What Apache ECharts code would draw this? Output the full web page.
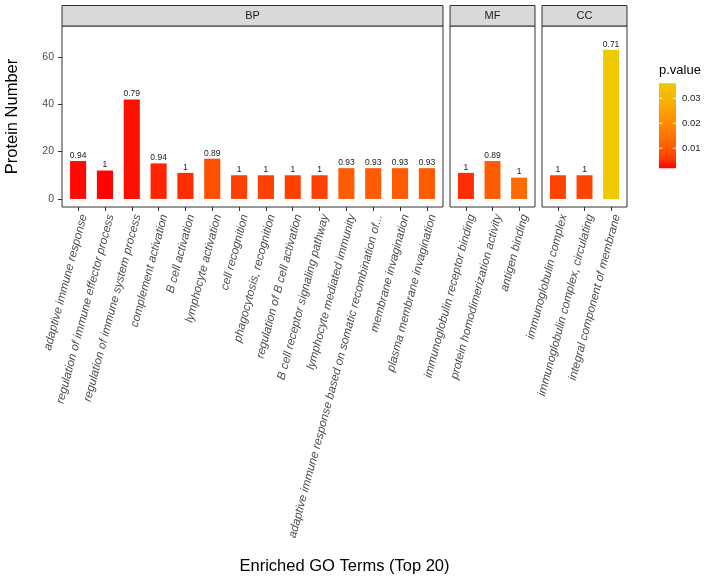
<!DOCTYPE html>
<html>
<head>
<meta charset="utf-8">
<script src="https://cdn.jsdelivr.net/npm/echarts@6/dist/echarts.min.js"></script>
<style>html,body{margin:0;padding:0;background:#fff}#c{width:708px;height:579px}</style>
</head>
<body>
<div id="c"></div>
<script>
// ---- data ----
const bpTerms = ["adaptive immune response","regulation of immune effector process","regulation of immune system process","complement activation","B cell activation","lymphocyte activation","cell recognition","phagocytosis, recognition","regulation of B cell activation","B cell receptor signaling pathway","lymphocyte mediated immunity","adaptive immune response based on somatic recombination of...","membrane invagination","plasma membrane invagination"];
const bpCounts = [16,12,42,15,11,17,10,10,10,10,13,13,13,13];
const bpLabels = ["0.94","1","0.79","0.94","1","0.89","1","1","1","1","0.93","0.93","0.93","0.93"];
const bpPvalues = [0.0027,0.0022,0.0030,0.0045,0.0050,0.0088,0.0065,0.0065,0.0065,0.0065,0.0105,0.0105,0.0105,0.0105];

const mfTerms = ["immunoglobulin receptor binding","protein homodimerization activity","antigen binding"];
const mfCounts = [11,16,9];
const mfLabels = ["1","0.89","1"];
const mfPvalues = [0.0050,0.0105,0.0135];

const ccTerms = ["immunoglobulin complex","immunoglobulin complex, circulating","integral component of membrane"];
const ccCounts = [10,10,63];
const ccLabels = ["1","1","0.71"];
const ccPvalues = [0.0070,0.0070,0.0360];

const panelNames = ["BP","MF","CC"];
const yTicks = [0,20,40,60];
const legendTicks = [0.01,0.02,0.03];
const pMin = 0.002, pMax = 0.036;

// ---- layout / style ----
const FONT = "Liberation Sans";
const colors = ["#FF0000","#FF3F00","#FF5C00","#FE7300","#FD8700","#FB9A00","#F9AB00","#F4BB00","#EEC900"];
const panels = [
  {terms: bpTerms, counts: bpCounts, labels: bpLabels, p: bpPvalues, left: 62, width: 381},
  {terms: mfTerms, counts: mfCounts, labels: mfLabels, p: mfPvalues, left: 450, width: 85},
  {terms: ccTerms, counts: ccCounts, labels: ccLabels, p: ccPvalues, left: 542, width: 85}
];
const gridTop = 26, gridHeight = 181;
const yMin = -3.4, yMax = 73;

const grids = [], xAxes = [], yAxes = [], series = [], graphics = [];
panels.forEach((pn, i) => {
  grids.push({left: pn.left, top: gridTop, width: pn.width, height: gridHeight, show: true,
    borderColor: '#333333', borderWidth: 1, backgroundColor: '#fff', containLabel: false,
    outerBoundsMode: 'none'});
  const ticks = pn.terms.map((t, j) => j + 1);
  xAxes.push({type: 'value', gridIndex: i, min: 0.4, max: pn.terms.length + 0.6,
    axisLine: {show: false, onZero: false},
    splitLine: {show: false},
    axisTick: {show: true, customValues: ticks, length: 4, lineStyle: {color: '#333333'}},
    axisLabel: {show: true, customValues: ticks, rotate: 75, verticalAlign: 'top', margin: 6,
      fontFamily: FONT, fontStyle: 'italic', fontSize: 11.7, color: '#4D4D4D',
      formatter: v => pn.terms[Math.round(v) - 1] || ''}
  });
  yAxes.push({type: 'value', gridIndex: i, min: yMin, max: yMax,
    axisLine: {show: false, onZero: false},
    splitLine: {show: false},
    axisTick: {show: i === 0, customValues: yTicks, length: 4, lineStyle: {color: '#333333'}},
    axisLabel: {show: i === 0, customValues: yTicks, margin: 8, fontFamily: FONT, fontSize: 10.5, color: '#4D4D4D'},
    name: i === 0 ? 'Protein Number' : '', nameLocation: 'middle', nameGap: 41,
    nameTextStyle: {fontFamily: FONT, fontSize: 16.5, color: '#000'}
  });
  series.push({type: 'bar', xAxisIndex: i, yAxisIndex: i, barWidth: '60%',
    data: pn.terms.map((t, j) => [j + 1, pn.counts[j], pn.p[j]]),
    label: {show: true, position: 'top', distance: 1, fontFamily: FONT, fontSize: 8.5, color: '#1A1A1A',
      formatter: prm => pn.labels[prm.dataIndex]},
    encode: {x: 0, y: 1}
  });
  graphics.push({type: 'group', children: [
    {type: 'rect', shape: {x: pn.left, y: 5.5, width: pn.width, height: gridTop - 5.5},
      style: {fill: '#D9D9D9', stroke: '#333333', lineWidth: 1}},
    {type: 'text', style: {text: panelNames[i], x: pn.left + pn.width / 2, y: (5.5 + gridTop) / 2,
      align: 'center', verticalAlign: 'middle', font: '11px ' + FONT, fill: '#1A1A1A'}}
  ]});
});

// x title
graphics.push({type: 'text', style: {text: 'Enriched GO Terms (Top 20)', x: (62 + 627) / 2, y: 566,
  align: 'center', verticalAlign: 'middle', font: '16.5px ' + FONT, fill: '#000'}});

// colour legend
const lgX = 659, lgY = 83.3, lgW = 17, lgH = 85;
graphics.push({type: 'text', style: {text: 'p.value', x: lgX, y: 64, align: 'left', verticalAlign: 'top',
  font: '13px ' + FONT, fill: '#000'}});
graphics.push({type: 'rect', shape: {x: lgX, y: lgY, width: lgW, height: lgH},
  style: {fill: {type: 'linear', x: 0, y: 1, x2: 0, y2: 0,
    colorStops: colors.map((c, k) => ({offset: k / (colors.length - 1), color: c}))}}});
legendTicks.forEach(v => {
  const y = lgY + lgH - (v - pMin) / (pMax - pMin) * lgH;
  graphics.push({type: 'line', shape: {x1: lgX, y1: y, x2: lgX + 3.4, y2: y}, style: {stroke: '#fff', lineWidth: 1, opacity: 0.8}});
  graphics.push({type: 'line', shape: {x1: lgX + lgW - 3.4, y1: y, x2: lgX + lgW, y2: y}, style: {stroke: '#fff', lineWidth: 1, opacity: 0.8}});
  graphics.push({type: 'text', style: {text: String(v), x: lgX + lgW + 6, y: y, align: 'left', verticalAlign: 'middle',
    font: '9.5px ' + FONT, fill: '#1A1A1A'}});
});

const chart = echarts.init(document.getElementById('c'), null, {renderer: 'canvas'});
chart.setOption({
  animation: false,
  backgroundColor: '#fff',
  textStyle: {fontFamily: FONT},
  grid: grids, xAxis: xAxes, yAxis: yAxes, series: series,
  visualMap: {type: 'continuous', show: false, dimension: 2, min: pMin, max: pMax,
    seriesIndex: [0, 1, 2], inRange: {color: colors}},
  graphic: graphics
});
</script>
</body>
</html>
